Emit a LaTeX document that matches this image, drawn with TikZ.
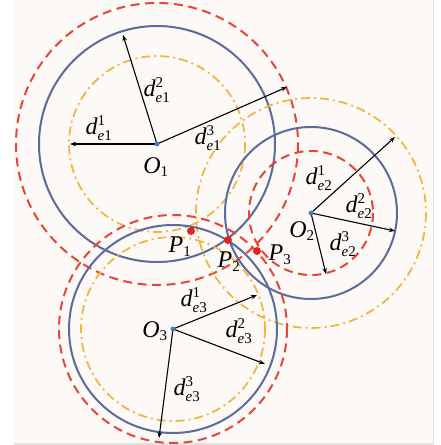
\documentclass[tikz,border=0pt]{standalone}
\usepackage{fontspec}
\setmainfont{Liberation Serif}
\usetikzlibrary{arrows.meta}
\definecolor{bg}{HTML}{FDF9F6}
\definecolor{cblue}{HTML}{5B6B9B}
\definecolor{cred}{HTML}{E8443C}
\definecolor{corange}{HTML}{F2B33D}
\definecolor{cdot}{HTML}{4A7CBF}
\definecolor{cpt}{HTML}{E3241E}
\newcommand\dlab[2]{\textit{d}$^{\hbox{\fontsize{15}{15}\selectfont #2}}_{\hbox{\fontsize{15}{15}\selectfont\textit{e}#1}}$}
\newcommand\olab[1]{\textit{O}$_{\hbox{\fontsize{15}{15}\selectfont #1}}$}
\newcommand\plab[1]{\textit{P}$_{\hbox{\fontsize{15}{15}\selectfont #1}}$}
\begin{document}
\begin{tikzpicture}[x=1pt,y=-1pt,
  bluec/.style={draw=cblue,line width=2pt},
  redc/.style={draw=cred,line width=2pt,dash pattern=on 9pt off 5.5pt},
  orac/.style={draw=corange,line width=1.7pt,dash pattern=on 9pt off 4pt on 2pt off 4pt},
  radarrow/.style={draw=black,line width=1.1pt,-{Stealth[length=6pt,width=4.5pt]}},
  lab/.style={font=\fontsize{24}{26}\selectfont,inner sep=0pt},
  cdotst/.style={circle,fill=cdot,inner sep=0pt,minimum size=5pt},
  ptst/.style={circle,fill=cpt,inner sep=0pt,minimum size=8pt}]
\useasboundingbox (0,0) rectangle (440,445);
\fill[white] (0,0) rectangle (440,445);
\fill[bg] (14,0) rectangle (433,443);
\fill[black!12] (14,443) rectangle (433,445);
\fill[black!12] (433,0) rectangle (434,445);
% centres
\coordinate (O1) at (157,144);
\coordinate (O2) at (311,213);
\coordinate (O3) at (173,329);
% circles
\draw[orac] (O1) circle (88);
\draw[bluec] (O1) circle (118);
\draw[redc] (O1) circle (141);
\draw[redc] (O2) circle (62);
\draw[bluec] (O2) circle (86);
\draw[orac] (O2) circle (115);
\draw[orac] (O3) circle (92);
\draw[bluec] (O3) circle (104);
\draw[redc] (O3) circle (114);
% arrow ends
\coordinate (a11) at (70,144);
\coordinate (a12) at (123,35);
\coordinate (a13) at (287,87);
\coordinate (a21) at (395,137);
\coordinate (a22) at (395,231);
\coordinate (a23) at (326,274);
\coordinate (a31) at (257,295);
\coordinate (a32) at (265,364);
\coordinate (a33) at (159,438);
\draw[radarrow] (O1) -- (a11);
\draw[radarrow] (O1) -- (a12);
\draw[radarrow] (O1) -- (a13);
\draw[radarrow] (O2) -- (a21);
\draw[radarrow] (O2) -- (a22);
\draw[radarrow] (O2) -- (a23);
\draw[radarrow] (O3) -- (a31);
\draw[radarrow] (O3) -- (a32);
\draw[radarrow] (O3) -- (a33);
% centre dots
\node[cdotst] (c1) at (O1) {};
\node[cdotst] (c2) at (O2) {};
\node[cdotst] (c3) at (O3) {};
% points
\node[ptst] (P1) at (191,231) {};
\node[ptst] (P2) at (228,240) {};
\node[ptst] (P3) at (257,251) {};
% labels
\node[lab] (l11) at (99,128) {\dlab{1}{1}};
\node[lab] (l12) at (157,90) {\dlab{1}{2}};
\node[lab] (l13) at (208,138) {\dlab{1}{3}};
\node[lab] (lO1) at (156,167) {\olab{1}};
\node[lab] (l21) at (319,178) {\dlab{2}{1}};
\node[lab] (l22) at (359,206) {\dlab{2}{2}};
\node[lab] (l23) at (343,244) {\dlab{2}{3}};
\node[lab] (lO2) at (302,231) {\olab{2}};
\node[lab] (l31) at (194,300) {\dlab{3}{1}};
\node[lab] (l32) at (239,331) {\dlab{3}{2}};
\node[lab] (l33) at (187,389) {\dlab{3}{3}};
\node[lab] (lO3) at (155,331) {\olab{3}};
\node[lab] (lP1) at (180,247) {\plab{1}};
\node[lab] (lP2) at (229,262) {\plab{2}};
\node[lab] (lP3) at (280,255) {\plab{3}};
\end{tikzpicture}
\end{document}
